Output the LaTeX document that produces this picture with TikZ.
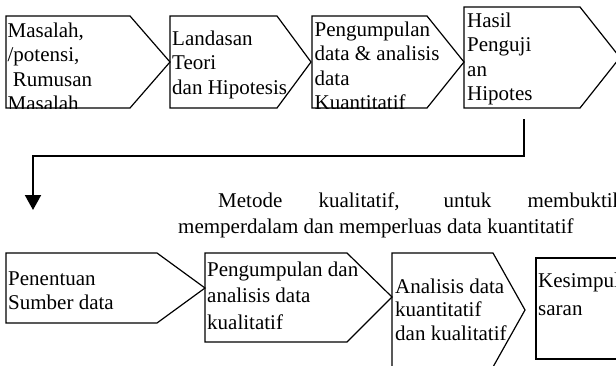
\documentclass[tikz,border=0pt]{standalone}
\usepackage{fontspec}
\setmainfont{Liberation Serif}
\usetikzlibrary{arrows.meta}

\begin{document}
\begin{tikzpicture}[x=1pt,y=-1pt,
  kotak/.style={line width=1.2pt},
  isi/.style={anchor=base west,align=left,inner sep=0pt,font=\fontsize{21}{24.5}\selectfont},
  panah/.style={line width=2pt,-{Triangle[width=16pt,length=15pt]}}]
\clip (0,0) rectangle (616,365);
% baris atas: kuantitatif (titik node = garis dasar baris terakhir)
\begin{scope}[kotak]
  \draw[clip] (6,16) -- (130,16) -- (170,62) -- (130,108) -- (6,108) -- cycle;
  \node[isi] (masalah) at (7,110.5) {Masalah,\\/potensi,\\\ Rumusan\\Masalah};
\end{scope}
\draw[kotak] (170,16) -- (277,16) -- (311,62) -- (277,108) -- (170,108) -- cycle;
\node[isi] (landasan) at (172,94) {Landasan\\Teori\\dan Hipotesis};
\begin{scope}[kotak]
  \draw[clip] (312,16) -- (427,16) -- (464,62) -- (427,108) -- (312,108) -- cycle;
  \node[isi] (kuanti) at (314,109.5) {Pengumpulan\\data \& analisis\\data\\Kuantitatif};
\end{scope}
\draw[kotak] (464,7) -- (580,7) -- (620,57.5) -- (580,108) -- (464,108) -- cycle;
\node[isi] (hasil) at (467,100.5) {Hasil\\Penguji\\an\\Hipotes};

% sambungan ke baris bawah
\coordinate (hasil-bawah) at (524,119);
\coordinate (turun) at (33,210);
\draw[panah] (hasil-bawah) -- ++(0,37) -| (turun);

\node[isi,font=\fontsize{21}{26}\selectfont] (metode) at (178,233)
  {\hspace*{40pt}\makebox[405pt][s]{Metode kualitatif, untuk membuktik}\\memperdalam dan memperluas data kuantitatif};

% baris bawah: kualitatif
\draw[kotak] (6,253) -- (157,253) -- (205,288) -- (157,323) -- (6,323) -- cycle;
\node[isi] (sumber) at (8,309.5) {Penentuan\\Sumber data};
\draw[kotak] (205,253) -- (347,253) -- (392,297) -- (347,342) -- (205,342) -- cycle;
\node[isi,font=\fontsize{21}{26.5}\selectfont] (kuali) at (207,329) {Pengumpulan dan\\analisis data\\kualitatif};
\draw[kotak] (392,253) -- (493,253) -- (525,310) -- (493,367) -- (392,367) -- cycle;
\node[isi,font=\fontsize{21}{23.5}\selectfont] (analisis) at (395,340) {Analisis data\\kuantitatif\\dan kualitatif};
\draw[kotak] (536,258) rectangle (640,359);
\node[isi,font=\fontsize{21}{28}\selectfont] (simpul) at (538,315) {Kesimpul\\saran};
\end{tikzpicture}
\end{document}
